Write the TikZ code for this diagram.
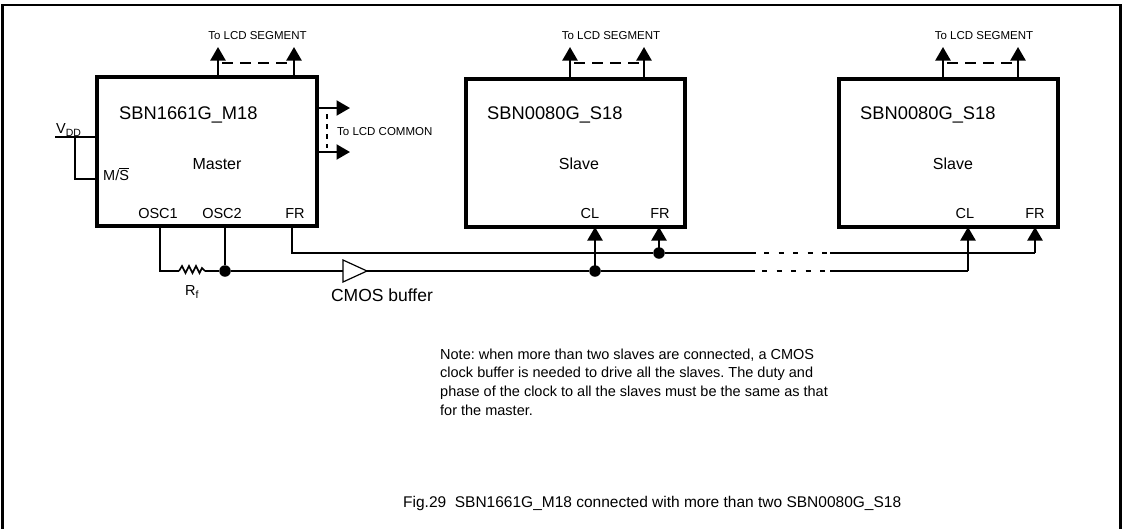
\documentclass[tikz,border=0pt]{standalone}
\usepackage{fontspec}
\setmainfont{Liberation Sans}
\usetikzlibrary{arrows.meta}
\frenchspacing
\newcommand{\fs}[1]{\fontsize{#1}{#1}\selectfont}
\tikzset{
  chip/.style={draw, line width=3.5pt, rectangle, inner sep=0pt, outer sep=0pt, anchor=north west},
  wire/.style={line width=2.2pt},
  outarrow/.style={wire, -{Triangle[length=13.5pt,width=15pt]}},
  segdash/.style={line width=2.2pt, dash pattern=on 11pt off 7pt},
  comdash/.style={line width=2.2pt, dash pattern=on 5pt off 5pt},
  gapdash/.style={line width=2.2pt, dash pattern=on 5pt off 9.5pt},
  dot/.style={circle, fill, inner sep=0pt, minimum size=11.5pt},
  lbl/.style={inner sep=0pt},
  frame/.style={line width=2.2pt},
}
\begin{document}
\begin{tikzpicture}[x=1pt,y=-1pt]
\useasboundingbox (0,0) rectangle (1122,528);
% frame
\draw[frame] (2.5,540) -- (2.5,5) -- (1120.5,5) -- (1120.5,540);

% chips
\node[chip, minimum width=220pt, minimum height=149pt] (M) at (97,77) {};
\node[chip, minimum width=219pt, minimum height=148pt] (S1) at (466,79) {};
\node[chip, minimum width=219pt, minimum height=148pt] (S2) at (839,79) {};

% chip labels
\node[lbl, anchor=base west] (mname) at (119,119) {\fs{18.3}SBN1661G\_M18};
\node[lbl, anchor=base] (mrole) at (217,169) {\fs{16}Master};
\node[lbl, anchor=base west] (s1name) at (487,119) {\fs{18.3}SBN0080G\_S18};
\node[lbl, anchor=base] (s1role) at (579,169) {\fs{16}Slave};
\node[lbl, anchor=base west] (s2name) at (860,119) {\fs{18.3}SBN0080G\_S18};
\node[lbl, anchor=base] (s2role) at (953,169) {\fs{16}Slave};

% pin labels
\node[lbl, anchor=base] (posc1) at (158,218) {\fs{14.5}OSC1};
\node[lbl, anchor=base] (posc2) at (222,218) {\fs{14.5}OSC2};
\node[lbl, anchor=base] (pfr) at (295,218) {\fs{14.5}FR};
\node[lbl, anchor=base] (pcl1) at (590,218) {\fs{14.5}CL};
\node[lbl, anchor=base] (pfr1) at (660,218) {\fs{14.5}FR};
\node[lbl, anchor=base] (pcl2) at (965,218) {\fs{14.5}CL};
\node[lbl, anchor=base] (pfr2) at (1035,218) {\fs{14.5}FR};
\node[lbl, anchor=base west] (pms) at (103,180) {\fs{14.5}M/$\overline{\hbox{S}}$};
\node[lbl, anchor=base west] (pvdd) at (56,133) {\fs{14.5}V\raisebox{-0.25em}{\fs{10.5}DD}};

% coordinates
\coordinate (mseg1) at (218,77);  \coordinate (mseg1t) at (218,47);
\coordinate (mseg2) at (294,77);  \coordinate (mseg2t) at (294,47);
\coordinate (s1seg1) at (570,79); \coordinate (s1seg1t) at (570,47);
\coordinate (s1seg2) at (644,79); \coordinate (s1seg2t) at (644,47);
\coordinate (s2seg1) at (943,79); \coordinate (s2seg1t) at (943,47);
\coordinate (s2seg2) at (1018,79);\coordinate (s2seg2t) at (1018,47);
\coordinate (com1) at (317,108); \coordinate (com1t) at (350,108);
\coordinate (com2) at (317,152); \coordinate (com2t) at (350,152);
\coordinate (vddin) at (55,137); \coordinate (vddpin) at (97,137);
\coordinate (vddj) at (75,137); \coordinate (mspin) at (97,179);
\coordinate (osc1) at (160,226); \coordinate (osc1c) at (160,271);
\coordinate (rA) at (179,271); \coordinate (rB) at (205,271);
\coordinate (osc2) at (225,226);
\coordinate (frm) at (292,226); \coordinate (frc) at (292,253);
\coordinate (cl1) at (595,227); \coordinate (fr1) at (659,227);
\coordinate (cl2) at (968,227); \coordinate (fr2) at (1035,227);
\coordinate (frg1) at (756,253); \coordinate (frg2) at (830,253);
\coordinate (clg1) at (755,271); \coordinate (clg2) at (830,271);
\coordinate (fr2c) at (1035,253); \coordinate (cl2c) at (968,271);

% segment outputs
\draw[outarrow] (mseg1) -- (mseg1t);
\draw[outarrow] (mseg2) -- (mseg2t);
\draw[segdash] (222,63) -- (290,63);
\node[lbl, anchor=base] (tseg0) at (257.5,39) {\fs{11.5}To LCD SEGMENT};
\draw[outarrow] (s1seg1) -- (s1seg1t);
\draw[outarrow] (s1seg2) -- (s1seg2t);
\draw[segdash] (574,63) -- (640,63);
\node[lbl, anchor=base] (tseg1) at (611,39) {\fs{11.5}To LCD SEGMENT};
\draw[outarrow] (s2seg1) -- (s2seg1t);
\draw[outarrow] (s2seg2) -- (s2seg2t);
\draw[segdash] (947,63) -- (1014,63);
\node[lbl, anchor=base] (tseg2) at (984,39) {\fs{11.5}To LCD SEGMENT};

% common outputs
\draw[outarrow] (com1) -- (com1t);
\draw[outarrow] (com2) -- (com2t);
\draw[comdash] (327,114) -- (327,148);
\node[lbl, anchor=base west] (tcom) at (337,135) {\fs{11.5}To LCD COMMON};

% VDD and M/S
\draw[wire] (vddin) -- (vddpin);
\draw[wire] (vddj) |- (mspin);

% oscillator and clock
\draw[wire] (osc1) -- (osc1c) -- (rA);
\draw[line width=1.6pt, line join=miter] (rA) -- (182,266) -- (185.5,273) -- (189,266) -- (192.5,273) -- (196,266) -- (199.5,273) -- (202,268) -- (rB);
\node[lbl, anchor=base west] (rf) at (185,295) {\fs{14.5}R\raisebox{-0.25em}{\fs{10.5}f}};
\node[dot] (dosc) at (225,271) {};
\draw[wire] (osc2) -- (dosc);
\draw[wire] (rB) -- (dosc);
\coordinate (bufin) at (343,271); \coordinate (bufout) at (367,271);
\draw[line width=1.2pt, line join=miter] (343,260) -- (343,282) -- (bufout) -- cycle;
\draw[wire] (dosc) -- (bufin);
\node[lbl, anchor=base] (tbuf) at (382,301) {\fs{17.5}CMOS buffer};
\node[dot] (dcl) at (595,271) {};
\draw[wire] (bufout) -- (dcl);
\draw[wire] (dcl) -- (clg1);
\draw[gapdash] (762,271) -- (828,271);
\draw[wire] (clg2) -- (cl2c);
\draw[outarrow] (cl2c) -- (cl2);
\draw[outarrow] (dcl.center) -- (cl1);

% FR line
\node[dot] (dfr) at (659,253) {};
\draw[wire] (frm) -- (frc) -- (dfr);
\draw[wire] (dfr) -- (frg1);
\draw[gapdash] (764,253) -- (828,253);
\draw[wire] (frg2) -- (fr2c);
\draw[outarrow] (fr2c) -- (fr2);
\draw[outarrow] (dfr.center) -- (fr1);

% note
\node[lbl, anchor=north west, align=left, font=\fontsize{14.5}{18.7}\selectfont] (note) at (440,348.5) {Note: when more than two slaves are connected, a CMOS\\clock buffer is needed to drive all the slaves. The duty and\\phase of the clock to all the slaves must be the same as that\\for the master.};

% caption
\node[lbl, anchor=base west] (cap) at (403,507) {\fs{15.5}Fig.29\ \ SBN1661G\_M18 connected with more than two SBN0080G\_S18};
\end{tikzpicture}
\end{document}
